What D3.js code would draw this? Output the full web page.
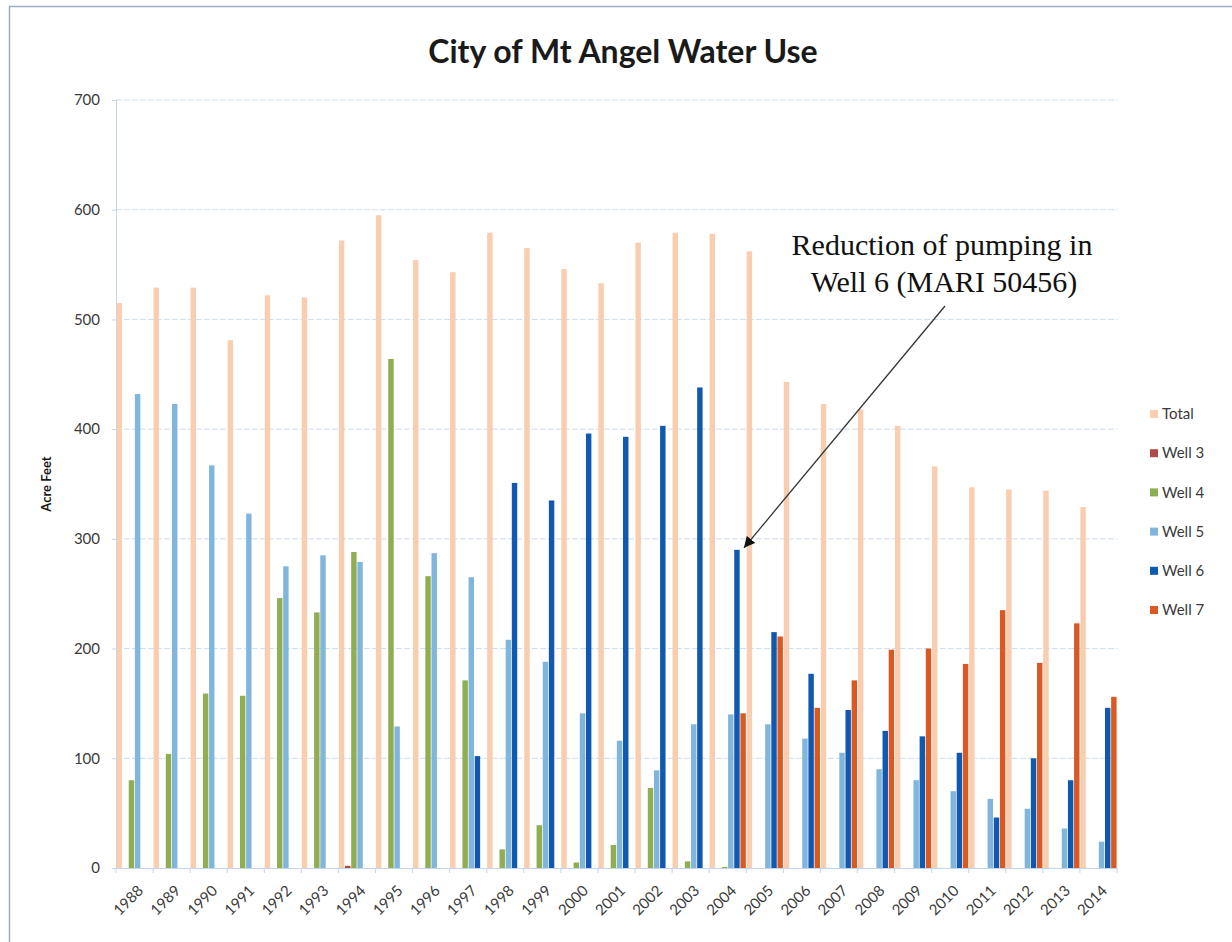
<!DOCTYPE html>
<html>
<head>
<meta charset="utf-8">
<script src="https://cdn.jsdelivr.net/npm/d3@7"></script>
<style>
  body { margin: 0; background: #fff; }
  text { font-family: Lato, "Open Sans", sans-serif; }
</style>
</head>
<body>
<div id="chart"></div>
<script>
var years = ["1988","1989","1990","1991","1992","1993","1994","1995","1996","1997","1998","1999","2000",
  "2001","2002","2003","2004","2005","2006","2007","2008","2009","2010","2011","2012","2013","2014"];

var total = [515, 529, 529, 481, 522, 520, 572, 595, 554, 543, 579, 565, 546,
  533, 570, 579, 578, 562, 443, 423, 418, 403, 366, 347, 345, 344, 329];
var well3 = [0, 0, 0, 0, 0, 0, 2, 0, 0, 0, 0, 0, 0,
  0, 0, 0, 0, 0, 0, 0, 0, 0, 0, 0, 0, 0, 0];
var well4 = [80, 104, 159, 157, 246, 233, 288, 464, 266, 171, 17, 39, 5,
  21, 73, 6, 1, 0, 0, 0, 0, 0, 0, 0, 0, 0, 0];
var well5 = [432, 423, 367, 323, 275, 285, 279, 129, 287, 265, 208, 188, 141,
  116, 89, 131, 140, 131, 118, 105, 90, 80, 70, 63, 54, 36, 24];
var well6 = [0, 0, 0, 0, 0, 0, 0, 0, 0, 102, 351, 335, 396,
  393, 403, 438, 290, 215, 177, 144, 125, 120, 105, 46, 100, 80, 146];
var well7 = [0, 0, 0, 0, 0, 0, 0, 0, 0, 0, 0, 0, 0,
  0, 0, 0, 141, 211, 146, 171, 199, 200, 186, 235, 187, 223, 156];

var seriesNames = ["Total", "Well 3", "Well 4", "Well 5", "Well 6", "Well 7"];
var seriesValues = [total, well3, well4, well5, well6, well7];
var colors = ["#f9cdb0", "#b04a48", "#8fae52", "#80b6dc", "#1158b0", "#d85a22"];
var yTicks = [0, 100, 200, 300, 400, 500, 600, 700];

var svgWidth = 1232;
var svgHeight = 942;
var margin = { top: 100, left: 116, right: 115, bottom: 74 };
var width = 1117 - margin.left;
var height = 868 - margin.top;

var svg = d3.select("#chart").append("svg")
  .attr("width", svgWidth)
  .attr("height", svgHeight);

// outer frame
svg.append("rect")
  .attr("x", 9.5).attr("y", 6.5)
  .attr("width", 1240).attr("height", 960)
  .attr("fill", "none")
  .attr("stroke", "#9eabc4")
  .attr("stroke-width", 1.5);

svg.append("text")
  .attr("x", 623).attr("y", 63)
  .attr("text-anchor", "middle")
  .style("font-size", "32px")
  .style("font-weight", "bold")
  .attr("fill", "#1a1a1a")
  .text("City of Mt Angel Water Use");

var chartGroup = svg.append("g")
  .attr("transform", `translate(${margin.left}, ${margin.top})`);

var x0 = d3.scaleBand().domain(years).range([0, width]).paddingInner(0).paddingOuter(0);
var x1 = d3.scaleBand().domain(seriesNames).range([0, x0.bandwidth()]).padding(0.02);
var y = d3.scaleLinear().domain([0, 700]).range([height, 0]);

// gridlines
chartGroup.append("g")
  .selectAll("line")
  .data(yTicks.slice(1))
  .enter()
  .append("line")
  .attr("x1", 0).attr("x2", width)
  .attr("y1", d => y(d)).attr("y2", d => y(d))
  .attr("stroke", "#cddcf0")
  .attr("stroke-dasharray", "6,2");

// y axis
var leftAxis = d3.axisLeft(y).tickValues(yTicks).tickSize(4).tickPadding(12);
var yAxis = chartGroup.append("g").call(leftAxis);
yAxis.select(".domain").attr("stroke", "#c3d4ec");
yAxis.selectAll(".tick line").attr("stroke", "#c3d4ec");
yAxis.selectAll("text")
  .style("font-size", "15px")
  .attr("fill", "#3a3a3a");

// bars
var bandGroups = chartGroup.selectAll(".year")
  .data(years)
  .enter()
  .append("g")
  .attr("transform", d => `translate(${x0(d)}, 0)`);

bandGroups.selectAll("rect")
  .data((d, i) => seriesNames.map((s, j) => ({ series: s, value: seriesValues[j][i], color: colors[j] })))
  .enter()
  .append("rect")
  .filter(d => d.value > 0)
  .attr("x", d => x1(d.series) + 0.3)
  .attr("width", x1.bandwidth() - 0.6)
  .attr("y", d => y(d.value))
  .attr("height", d => height - y(d.value))
  .attr("fill", d => d.color);

// x axis
var bottomAxis = d3.axisBottom(x0).tickSize(0).tickPadding(0);
var xAxis = chartGroup.append("g")
  .attr("transform", `translate(0, ${height})`)
  .call(bottomAxis);
xAxis.select(".domain").attr("stroke", "#c3d4ec");
xAxis.selectAll("text")
  .style("font-size", "15px")
  .attr("fill", "#3a3a3a")
  .attr("text-anchor", "end")
  .attr("x", 0).attr("y", 0)
  .attr("dy", "0.35em")
  .attr("transform", "translate(6, 20) rotate(-45)");

// tick marks at band boundaries
chartGroup.append("g")
  .selectAll("line")
  .data(years.concat(["end"]))
  .enter()
  .append("line")
  .attr("x1", (d, i) => i * x0.step())
  .attr("x2", (d, i) => i * x0.step())
  .attr("y1", height).attr("y2", height + 5)
  .attr("stroke", "#c3d4ec");

// y label
svg.append("text")
  .attr("transform", "rotate(-90)")
  .attr("x", -484).attr("y", 51)
  .attr("text-anchor", "middle")
  .style("font-size", "13px")
  .style("font-weight", "bold")
  .attr("fill", "#1a1a1a")
  .text("Acre Feet");

// legend
var legend = svg.append("g").attr("transform", "translate(1150, 414)");
var legendItems = legend.selectAll("g")
  .data(seriesNames)
  .enter()
  .append("g")
  .attr("transform", (d, i) => `translate(0, ${i * 39.2})`);
legendItems.append("rect")
  .attr("x", 0).attr("y", -4)
  .attr("width", 8).attr("height", 8)
  .attr("fill", (d, i) => colors[i]);
legendItems.append("text")
  .attr("x", 12).attr("y", 0)
  .attr("dy", "0.35em")
  .style("font-size", "15px")
  .attr("fill", "#3a3a3a")
  .text(d => d);

// annotation
var note = svg.append("g");
note.append("text")
  .attr("x", 942).attr("y", 255)
  .attr("text-anchor", "middle")
  .style("font-family", "'Liberation Serif', 'Times New Roman', serif")
  .style("font-size", "30px")
  .attr("fill", "#111")
  .text("Reduction of pumping  in");
note.append("text")
  .attr("x", 944).attr("y", 292)
  .attr("text-anchor", "middle")
  .style("font-family", "'Liberation Serif', 'Times New Roman', serif")
  .style("font-size", "30px")
  .attr("fill", "#111")
  .text("Well 6 (MARI  50456)");

svg.append("defs").append("marker")
  .attr("id", "arrow")
  .attr("viewBox", "0 0 10 10")
  .attr("refX", 10).attr("refY", 5)
  .attr("markerWidth", 11).attr("markerHeight", 11)
  .attr("markerUnits", "userSpaceOnUse")
  .attr("orient", "auto")
  .append("path")
  .attr("d", "M0,0 L10,5 L0,10 Z")
  .attr("fill", "#111");

// arrow points at the 2004 Well 6 bar
var arrowTipX = margin.left + x0("2004") + x1("Well 6") + x1.bandwidth() + 4;
var arrowTipY = margin.top + y(well6[years.indexOf("2004")]) - 2;
note.append("line")
  .attr("x1", 945).attr("y1", 306)
  .attr("x2", arrowTipX).attr("y2", arrowTipY)
  .attr("stroke", "#333")
  .attr("stroke-width", 1.3)
  .attr("marker-end", "url(#arrow)");
</script>
</body>
</html>
